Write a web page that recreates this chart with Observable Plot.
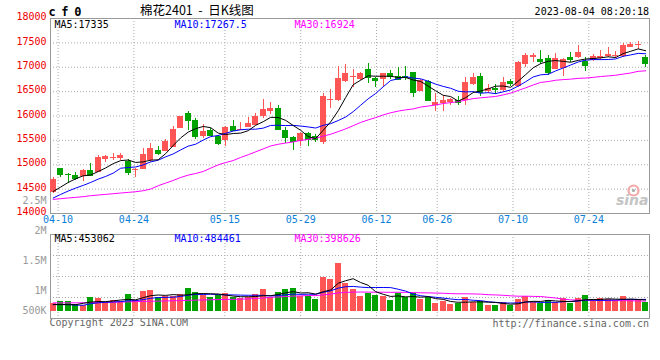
<!DOCTYPE html>
<html>
<head>
<meta charset="utf-8">
<script src="https://cdn.jsdelivr.net/npm/d3@7"></script>
<script src="https://cdn.jsdelivr.net/npm/@observablehq/plot@0.6"></script>
<style>
html, body { margin: 0; padding: 0; background: #fff; }
#chart { position: relative; width: 660px; height: 360px; overflow: hidden; background: #fff; }
#chart svg { position: absolute; left: 0; top: 0; background: transparent !important; }
.t { position: absolute; white-space: pre; line-height: 1; }
.mono { font-family: "DejaVu Sans Mono", monospace; }
</style>
</head>
<body>
<div id="chart">
  <div class="t mono" style="left:48.5px;top:6px;font-size:12px;font-weight:bold;letter-spacing:-0.8px;color:#000">c f 0</div>
  <div class="t" style="left:140px;top:3.5px;font-size:12.5px;font-family:'Noto Sans CJK SC';color:#000">棉花2401  -  日K线图</div>
  <div class="t mono" style="right:11px;top:6.5px;font-size:10px;color:#000">2023-08-04 08:20:18</div>
  <div class="t mono" style="left:49.5px;top:318.2px;font-size:10px;color:#666">Copyright 2023 SINA.COM</div>
  <div class="t mono" style="right:11px;top:318.5px;font-size:10px;color:#666">http://finance.sina.com.cn</div>
</div>
<script>
// ---------------- data ----------------
const dates = ["04-07",
  "04-10","04-11","04-12","04-13","04-14","04-17","04-18","04-19","04-20","04-21",
  "04-24","04-25","04-26","04-27","04-28","05-04","05-05","05-08","05-09","05-10","05-11","05-12",
  "05-15","05-16","05-17","05-18","05-19","05-22","05-23","05-24","05-25","05-26",
  "05-29","05-30","05-31","06-01","06-02","06-05","06-06","06-07","06-08","06-09",
  "06-12","06-13","06-14","06-15","06-16","06-19","06-20","06-21",
  "06-26","06-27","06-28","06-29","06-30","07-03","07-04","07-05","07-06","07-07",
  "07-10","07-11","07-12","07-13","07-14","07-17","07-18","07-19","07-20","07-21",
  "07-24","07-25","07-26","07-27","07-28","07-31","08-01","08-02","08-03"];

const open = [14433,14916,14800,14773,14760,14889,14841,15106,15140,15134,
  15066,14880,14909,15079,15283,15270,15351,15739,16052,15916,
  15589,15712,15576,15494,15786,15698,15759,15800,15984,16086,
  16154,15712,15569,15467,15644,15583,15460,16310,16324,16711,
  16800,16752,16956,16766,16752,16874,16813,16806,16888,16494,
  16698,16215,16256,16269,16310,16317,16643,16813,16494,16568,
  16528,16711,16596,17058,17208,17160,17180,16949,16970,17208,
  17208,17119,17140,17174,17228,17221,17228,17412,17460,17194];
const high = [14739,14930,14828,14841,14896,15032,15181,15181,15236,15222,
  15100,14930,15324,15426,15372,15508,15780,15997,16086,15950,
  15827,15745,15610,15793,15916,15868,15970,16052,16344,16283,
  16222,15766,15589,15657,15657,15623,16460,16548,17017,17065,
  16956,16902,17085,16800,16881,16936,16990,17017,16902,16745,
  16732,16460,16426,16358,16392,16800,16868,16881,16636,16636,
  16786,16745,17126,17289,17276,17344,17242,17276,17180,17303,
  17446,17194,17255,17344,17412,17330,17480,17514,17527,17242];
const low = [14420,14739,14624,14678,14658,14760,14841,15052,15079,15086,
  14780,14746,14909,15045,15188,15270,15351,15739,15712,15528,
  15542,15589,15385,15372,15678,15698,15759,15800,15956,16038,
  15718,15440,15290,15372,15372,15453,15406,16154,16303,16677,
  16582,16718,16664,16582,16582,16745,16745,16718,16371,16494,
  16303,16099,16099,16208,16222,16222,16630,16405,16460,16446,
  16507,16609,16575,16990,17092,17058,16834,16949,16820,17106,
  17174,16922,17120,17140,17208,17174,17208,17398,17357,16990];
const close = [14692,14794,14790,14712,14875,14780,15147,15161,15150,15188,
  14841,14900,15215,15324,15229,15474,15732,15997,15916,15589,
  15691,15610,15440,15766,15698,15732,15854,15997,16133,16147,
  15718,15555,15474,15637,15508,15508,16405,16344,16772,16874,
  16813,16874,16786,16732,16874,16813,16745,16786,16473,16732,
  16324,16269,16324,16344,16269,16677,16793,16480,16568,16541,
  16691,16664,17106,17242,17242,17119,16902,17180,17160,17153,
  17310,17044,17228,17228,17262,17235,17446,17466,17473,17072];
const volume = [324000,391500,391500,270000,229500,553500,513000,364500,432000,405000,
  675000,432000,796500,837000,540000,594000,594000,675000,918000,756000,
  634500,540000,634500,715500,540000,499500,540000,675000,877500,540000,
  756000,877500,918000,594000,594000,472500,1363500,1282500,1944000,1107000,
  877500,594000,729000,634500,594000,432000,702000,540000,702000,459000,
  540000,297000,405000,270000,297000,553500,364500,391500,229500,229500,
  351000,216000,472500,594000,364500,324000,432000,364500,499500,324000,
  499500,621000,432000,499500,459000,432000,594000,459000,432000,364500];

// moving-average values at the left edge (their windows start before the shown range)
const ma5Head  = [14453,14542,14637,14712];
const ma10Head = [14318,14392,14460,14522,14576,14637,14705,14760,14828];
const ma30Head = [14290,14304,14318,14331,14345,14365,14379,14392,14406,14420,
  14433,14447,14467,14501,14569,14624,14678,14739,14787,14821,
  14862,14930,14998,15045,15086,15150,15205,15265,15325];
const vma5Head  = [270000,270000,265000,262000];
const vma10Head = [265000,268000,268000,245000,240000,300000,340000,360000,375000];
const vma30Head = [337000,337000,337000,340000,342000,345000,350000,357000,364000,370000,
  378000,386000,395000,402000,408000,415000,422000,430000,440000,448000,
  456000,463000,470000,476000,482000,487000,500000,515000,535000];

const tickLabels = ["04-10","04-24","05-15","05-29","06-12","06-26","07-10","07-24"];
const priceTicks = [14000,14500,15000,15500,16000,16500,17000,17500,18000];
const volTicks = [500000,1000000,1500000,2000000,2500000];
const volTickLabels = ["500K","1M","1.5M","2M","2.5M"];
const priceLegend = ["MA5:17335","MA10:17267.5","MA30:16924"];
const volLegend = ["MA5:453062","MA10:484461","MA30:398626"];

// ---------------- styling / layout ----------------
const W = 660, H = 360, ML = 50, MR = 11;
const PT = 18, PB = 147;          // price frame 18..213
const VT = 234, VB = 42;          // volume frame 234..318
const RED = "#ff5555", GREEN = "#00a300";
const MONO = "DejaVu Sans Mono";
const legendColors = ["#000000", "#0000ff", "#ff00ff"];
const legendDx = [4, 124, 244];
const dotted = {stroke: "#aaaaaa", strokeDasharray: "1,2"};

const idx = d3.range(close.length);
const up = idx.filter(i => close[i] >= open[i]);
const dn = idx.filter(i => close[i] < open[i]);
const tickIdx = tickLabels.map(t => dates.indexOf(t));

function ma(arr, n, head) {
  return arr.map((_, i) => i < head.length ? head[i] : d3.mean(arr.slice(i - n + 1, i + 1)));
}
const ma5 = ma(close, 5, ma5Head), ma10 = ma(close, 10, ma10Head), ma30 = ma(close, 30, ma30Head);
const vma5 = ma(volume, 5, vma5Head), vma10 = ma(volume, 10, vma10Head), vma30 = ma(volume, 30, vma30Head);

const priceDomain = [14000, 18000];
const volDomain = [-295650, 3106350];
const volGrid = [1, 2, 3].map(k => volDomain[1] - (volDomain[1] - volDomain[0]) * k / 4);
const candleX = {type: "linear", domain: [-0.36, 79.51], axis: null};
const gridX = {type: "linear", domain: [0, 79], axis: null};

const chart = document.getElementById("chart");
function layer(opts) {
  const svg = Plot.plot({width: W, height: H, marginLeft: ML, marginRight: MR, ...opts});
  svg.style.position = "absolute";
  svg.style.left = "0px";
  svg.style.top = "0px";
  svg.style.background = "transparent";
  svg.style.overflow = "visible";
  chart.appendChild(svg);
}

function legendMarks(labels, dy) {
  return labels.map((s, k) => Plot.text([s], {
    frameAnchor: "top-left", lineAnchor: "middle", textAnchor: "start",
    dx: legendDx[k], dy, text: d => d, fill: legendColors[k], fontFamily: MONO, fontSize: 10
  }));
}

// L1: price grid, frame, axes
layer({
  marginTop: PT, marginBottom: PB,
  x: gridX, y: {type: "linear", domain: priceDomain, axis: null},
  marks: [
    Plot.ruleY(priceTicks.slice(1, -1), dotted),
    Plot.ruleX(tickIdx, {x: d => d, ...dotted}),
    Plot.frame({stroke: "#999999"}),
    Plot.text(priceTicks, {y: d => d, text: d => String(d), frameAnchor: "left", textAnchor: "end",
      dx: -4, dy: -1.5, fill: "#ee0000", fontFamily: MONO, fontSize: 10}),
    Plot.text(tickIdx, {x: d => d, text: (d, i) => tickLabels[i], frameAnchor: "bottom",
      dy: 9, fill: "#0a7fd8", fontFamily: MONO, fontSize: 10})
  ]
});

// L3: volume grid and frame
layer({
  marginTop: VT, marginBottom: VB,
  x: gridX, y: {type: "linear", domain: volDomain, axis: null},
  marks: [
    Plot.ruleY(volGrid, dotted),
    Plot.ruleX(tickIdx, {x: d => d, ...dotted}),
    Plot.frame({stroke: "#999999"})
  ]
});

// L2: candles + moving averages
layer({
  marginTop: PT, marginBottom: PB,
  x: candleX, y: {type: "linear", domain: priceDomain, axis: null},
  marks: [
    Plot.ruleX(up, {x: i => i, y1: i => low[i], y2: i => high[i], stroke: RED, shapeRendering: "crispEdges"}),
    Plot.ruleX(dn, {x: i => i, y1: i => low[i], y2: i => high[i], stroke: GREEN, shapeRendering: "crispEdges"}),
    Plot.rect(up, {x1: i => i - 0.4, x2: i => i + 0.4, y1: i => open[i], y2: i => close[i], fill: RED, shapeRendering: "crispEdges"}),
    Plot.rect(dn, {x1: i => i - 0.4, x2: i => i + 0.4, y1: i => close[i], y2: i => open[i], fill: GREEN, shapeRendering: "crispEdges"}),
    Plot.ruleY(up, {y: i => close[i], x1: i => i - 0.4, x2: i => i + 0.4, stroke: RED, shapeRendering: "crispEdges"}),
    Plot.ruleY(dn, {y: i => close[i], x1: i => i - 0.4, x2: i => i + 0.4, stroke: GREEN, shapeRendering: "crispEdges"}),
    Plot.line(idx, {x: i => i, y: i => ma30[i], stroke: "#ff00ff", strokeWidth: 1}),
    Plot.line(idx, {x: i => i, y: i => ma10[i], stroke: "#0000ff", strokeWidth: 1}),
    Plot.line(idx, {x: i => i, y: i => ma5[i], stroke: "#000000", strokeWidth: 1}),
    ...legendMarks(priceLegend, 6),
    Plot.dot(["logo"], {frameAnchor: "bottom-right", dx: -16, dy: -23, r: 5, stroke: "#f3a8a8", strokeWidth: 2.2, fill: "none"}),
    Plot.dot(["logo"], {frameAnchor: "bottom-right", dx: -16, dy: -23, r: 1.6, fill: "#aaaaaa", stroke: "none"}),
    Plot.text(["sina"], {frameAnchor: "bottom-right", textAnchor: "end", lineAnchor: "middle", dx: -1, dy: -13,
      text: d => d, fill: "#c4c4c4", fontSize: 14, fontWeight: "bold", fontStyle: "italic", fontFamily: "DejaVu Sans"})
  ]
});

// L4: volume bars + moving averages
layer({
  marginTop: VT, marginBottom: VB,
  x: candleX, y: {type: "linear", domain: volDomain, axis: null},
  marks: [
    Plot.rect(up, {x1: i => i - 0.4, x2: i => i + 0.4, y1: i => 0, y2: i => volume[i], fill: RED, shapeRendering: "crispEdges"}),
    Plot.rect(dn, {x1: i => i - 0.4, x2: i => i + 0.4, y1: i => 0, y2: i => volume[i], fill: GREEN, shapeRendering: "crispEdges"}),
    Plot.line(idx, {x: i => i, y: i => vma30[i], stroke: "#ff00ff", strokeWidth: 1}),
    Plot.line(idx, {x: i => i, y: i => vma10[i], stroke: "#0000ff", strokeWidth: 1}),
    Plot.line(idx, {x: i => i, y: i => vma5[i], stroke: "#000000", strokeWidth: 1}),
    ...legendMarks(volLegend, 4.5)
  ]
});

// L5: volume axis labels (as placed by the source chart)
layer({
  marginTop: 0, marginBottom: 0,
  y: {type: "linear", domain: [500000, 1000000, 2500000], range: [310.7, 290.3, 200.3], axis: null},
  marks: [
    Plot.text(volTicks, {y: d => d, text: (d, i) => volTickLabels[i], frameAnchor: "left", textAnchor: "end",
      dx: -4, fill: "#999999", fontFamily: MONO, fontSize: 10})
  ]
});
</script>
</body>
</html>
